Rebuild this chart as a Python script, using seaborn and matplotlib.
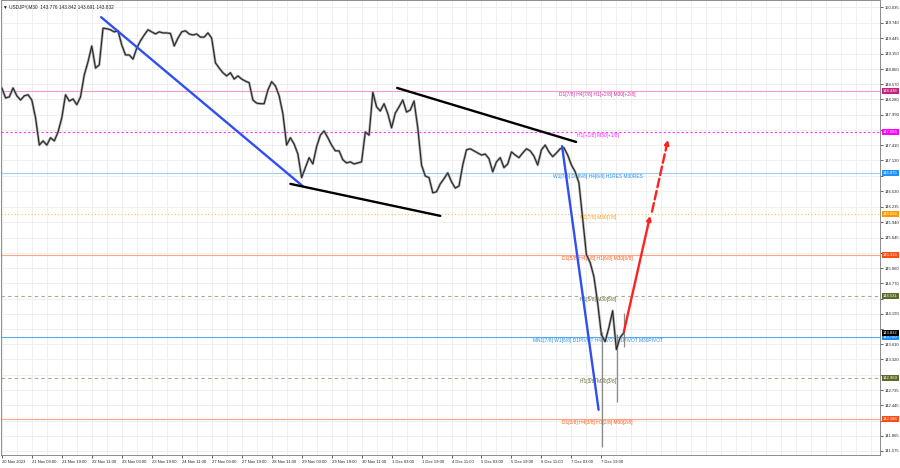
import numpy as np
import pandas as pd
import matplotlib
matplotlib.use("Agg")
import matplotlib.pyplot as plt
import matplotlib.transforms as mtransforms
import seaborn as sns

# USDJPY M30, close read every 4 bars (bar index 0 = 20 Nov 2023 11:00)
bar_step = 4
close = [
    148.50, 148.31, 148.33, 148.50, 148.35, 148.27, 148.35, 148.37, 148.27, 147.93,
    147.41, 147.49, 147.41, 147.55, 147.49, 147.66, 147.93, 148.37, 148.25, 148.29,
    148.18, 148.33, 148.75, 149.00, 149.30, 148.88, 148.94, 149.64, 149.63, 149.61,
    149.57, 149.59, 149.32, 149.13, 149.13, 149.05, 149.26, 149.40, 149.51, 149.61,
    149.57, 149.53, 149.57, 149.55, 149.55, 149.54, 149.30, 149.45, 149.57, 149.59,
    149.53, 149.51, 149.53, 149.47, 149.47, 149.55, 149.45, 148.98, 148.88, 148.79,
    148.73, 148.79, 148.67, 148.73, 148.67, 148.63, 148.60, 148.27, 148.21, 148.20,
    148.20, 148.46, 148.62, 148.54, 148.35, 148.01, 147.41, 147.55, 147.43, 147.24,
    146.79, 146.98, 147.17, 147.05, 147.38, 147.60, 147.68, 147.55, 147.41, 147.30,
    147.30, 147.13, 147.07, 147.09, 147.05, 147.07, 147.09, 147.66, 147.60, 148.42,
    148.14, 148.06, 148.20, 148.01, 147.74, 148.02, 148.14, 148.27, 148.04, 148.08,
    148.25, 147.74, 147.03, 146.82, 146.79, 146.50, 146.52, 146.67, 146.77, 146.88,
    146.71, 146.59, 146.63, 147.03, 147.32, 147.34, 147.30, 147.26, 147.22, 147.24,
    147.15, 146.90, 147.09, 147.17, 146.98, 147.05, 147.28, 147.22, 147.17, 147.26,
    147.34, 147.30, 147.20, 147.03, 147.32, 147.41, 147.28, 147.19, 147.26, 147.34,
    147.36, 147.22, 147.03, 146.90, 146.69, 146.00, 145.32, 145.17, 144.90, 144.40,
    143.79, 143.66, 143.93, 144.25, 143.51, 143.74, 143.832,
]

# long wicks at the end of the drop
wick_bar = [641, 657, 664]
wick_low = [141.66, 142.50, 143.55]
wick_high = [143.85, 143.80, 144.21]

tick_bars = list(range(0, 641, 32))
tick_dates = [
    "20 Nov 2023", "21 Nov 03:00", "21 Nov 19:00", "22 Nov 11:00", "23 Nov 03:00",
    "23 Nov 19:00", "24 Nov 11:00", "27 Nov 03:00", "27 Nov 19:00", "28 Nov 11:00",
    "29 Nov 03:00", "29 Nov 19:00", "30 Nov 11:00", "1 Dec 03:00", "1 Dec 19:00",
    "4 Dec 11:00", "5 Dec 03:00", "5 Dec 19:00", "6 Dec 11:00", "7 Dec 03:00",
    "7 Dec 19:00",
]
price_ticks = [
    150.035, 149.740, 149.445, 149.150, 148.860, 148.570, 148.280, 147.990, 147.700,
    147.410, 147.120, 146.830, 146.530, 146.235, 145.940, 145.645, 145.355, 145.060,
    144.770, 144.480, 144.190, 143.900, 143.610, 143.320, 143.025, 142.735, 142.445,
    142.155, 141.865, 141.575,
]

# Murrey math levels
levels = [148.438, 147.656, 146.875, 146.094, 145.313, 144.531, 143.750, 142.969, 142.188]
level_names = [
    "D1[7/8] H4[7/8] H1[+2/8] M30[+2/8]",
    "H1[+1/8] M30[+1/8]",
    "W1[7/8] D1[6/8] H4[6/8] H1RES M30RES",
    "H1[7/8] M30[7/8]",
    "D1[5/8] H4[5/8] H1[6/8] M30[6/8]",
    "H1[5/8] M30[5/8]",
    "MN1[7/8] W1[6/8] D1PIVOT H4PIVOT H1PIVOT M30PIVOT",
    "H1[3/8] M30[3/8]",
    "D1[3/8] H4[3/8] H1[2/8] M30[2/8]",
]
line_colors = ["#f59ad0", "#ff33ff", "#9ccff5", "#ffb84d", "#ffa585",
               "#a5ad8a", "#5aa9f0", "#a5ad8a", "#ffa585"]
line_styles = ["-", (0, (2, 2)), "-", (0, (1, 2)), "-", (0, (3, 3)), "-", (0, (3, 3)), "-"]
text_colors = ["#d0309a", "#ff22ff", "#2a90f0", "#ff9a1a", "#ff5a1a",
               "#5f6b35", "#2a90f0", "#5f6b35", "#ff5a1a"]
box_colors = ["#c8207e", "#ff00ff", "#1e90ff", "#ff9900", "#ff4a10",
              "#5a6b2a", "#1e90ff", "#5a6b2a", "#ff4a10"]
label_bar = 636
current_price = 143.832

# hand drawn trend lines (bar, price)
blue_a_bar, blue_a_price = [106, 321], [149.85, 146.63]
blue_b_bar, blue_b_price = [598, 637], [147.39, 142.36]
black_low_bar, black_low_price = [308, 468], [146.67, 146.06]
black_up_bar, black_up_price = [422, 613], [148.50, 147.47]
red_solid_bar, red_solid_price = [664, 692], [143.85, 146.06]
red_dash_bar, red_dash_price = [694, 711], [146.14, 147.51]

sns.set_style("white")
plt.rcParams["font.family"] = ["Liberation Sans", "DejaVu Sans"]

df = pd.DataFrame({"bar": np.arange(len(close)) * bar_step, "close": close})

fig = plt.figure(figsize=(9, 4.68), dpi=100)
ax = fig.add_axes([0.001, 0.028, 0.977, 0.972])

# grid
for b in range(0, 940, 16):
    ax.axvline(b, color="#ededed", lw=0.6, zorder=0)
for p in price_ticks:
    ax.axhline(p, color="#ededed", lw=0.6, zorder=0)

for lv, c, ls in zip(levels, line_colors, line_styles):
    ax.axhline(lv, color=c, lw=0.8, ls=ls, zorder=1)
for lv, name, tc in zip(levels, level_names, text_colors):
    ax.annotate(name, (label_bar, lv), xytext=(0, -0.6), textcoords="offset points",
                ha="center", va="top", fontsize=3.5, color=tc, zorder=2)

# price
sns.lineplot(data=df, x="bar", y="close", ax=ax, color="#a8a8a8", lw=1.8, zorder=3)
sns.lineplot(data=df, x="bar", y="close", ax=ax, color="#262626", lw=0.8, zorder=4)
ax.vlines(wick_bar, wick_low, wick_high, color="#8a8a8a", lw=0.9, zorder=3)

ax.plot(blue_a_bar, blue_a_price, color="#2f4ff0", lw=1.7, zorder=5)
ax.plot(blue_b_bar, blue_b_price, color="#2f4ff0", lw=1.7, zorder=5)
ax.plot(black_low_bar, black_low_price, color="black", lw=1.7, zorder=5)
ax.plot(black_up_bar, black_up_price, color="black", lw=1.7, zorder=5)
ax.annotate("", xy=(red_solid_bar[1], red_solid_price[1]),
            xytext=(red_solid_bar[0], red_solid_price[0]),
            arrowprops=dict(arrowstyle="-|>", color="#ff2020", lw=1.7, mutation_scale=6,
                            shrinkA=0, shrinkB=0), zorder=6)
ax.annotate("", xy=(red_dash_bar[1], red_dash_price[1]),
            xytext=(red_dash_bar[0], red_dash_price[0]),
            arrowprops=dict(arrowstyle="-|>", color="#ff2020", lw=1.7, ls="--",
                            mutation_scale=6, shrinkA=0, shrinkB=0), zorder=6)

ax.set_xlim(-1, 937.6)
ax.set_ylim(141.50, 150.178)

# tick labels hidden behind the coloured price boxes
covered = [147.700, 146.830, 145.355, 144.480, 143.900, 143.025, 142.155]
ax.yaxis.tick_right()
ax.set_yticks(price_ticks)
ax.set_yticklabels(["" if p in covered else f"{p:.3f}" for p in price_ticks])
ax.set_xticks(tick_bars)
ax.set_xticklabels(tick_dates)
ax.tick_params(axis="both", labelsize=3.0, colors="#222222", length=2, width=0.5,
               pad=1.5, direction="out")
ax.tick_params(axis="y", left=False, right=True)
ax.tick_params(axis="x", top=False, bottom=True)
for t in ax.get_xticklabels():
    t.set_ha("left")
ax.set_xlabel("")
ax.set_ylabel("")
for s in ax.spines.values():
    s.set_color("#8c8c8c")
    s.set_linewidth(0.7)

# price boxes on the right scale
trans = mtransforms.blended_transform_factory(ax.transAxes, ax.transData)
for lv, bc in zip(levels, box_colors):
    ax.text(1.003, lv, f"{lv:.3f}", transform=trans, ha="left", va="center",
            fontsize=3.0, color="white", clip_on=False, zorder=10,
            bbox=dict(boxstyle="square,pad=0.25", fc=bc, ec="none"))
ax.text(1.003, current_price, f"{current_price:.3f}", transform=trans, ha="left",
        va="center", fontsize=3.0, color="white", clip_on=False, zorder=11,
        bbox=dict(boxstyle="square,pad=0.25", fc="black", ec="none"))

fig.text(0.003, 0.991, "\u25bc USDJPY,M30  143.776 143.842 143.691 143.832",
         fontsize=3.4, color="#222222", va="top", ha="left")

fig.savefig("out.png", dpi=100)
